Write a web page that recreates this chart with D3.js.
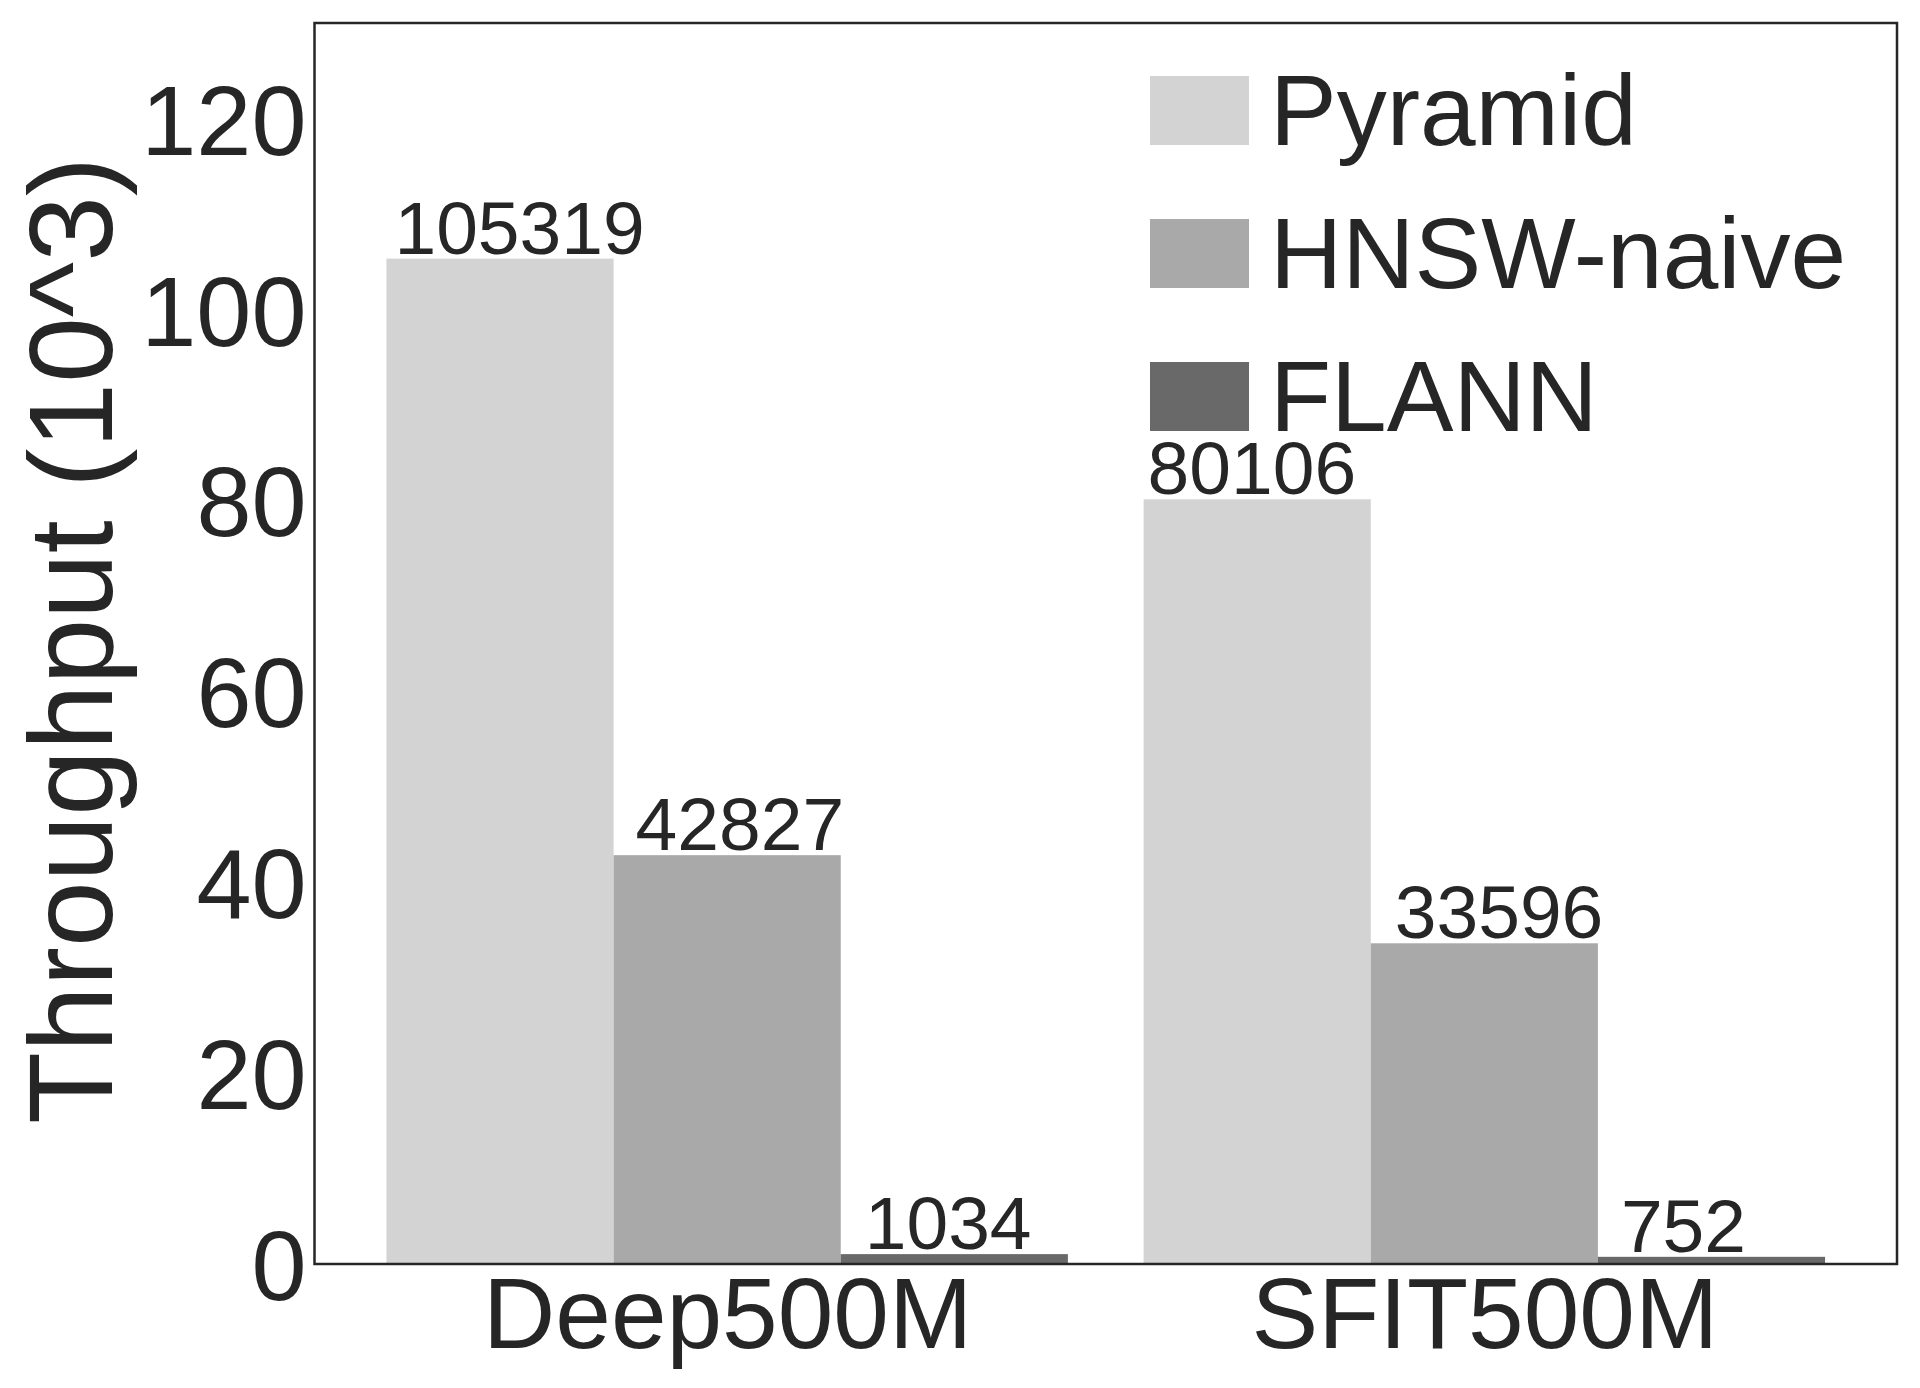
<!DOCTYPE html>
<html>
<head>
<meta charset="utf-8">
<script src="https://cdn.jsdelivr.net/npm/d3@7.9.0/dist/d3.min.js"></script>
<style>
  html, body { margin: 0; padding: 0; background: #fff; }
  svg text { font-family: "Liberation Sans", Arial, sans-serif; fill: #262626; }
</style>
</head>
<body>
<svg width="1920" height="1388"></svg>
<script>
// data
const categories = ['Deep500M', 'SFIT500M'];
const seriesNames = ['Pyramid', 'HNSW-naive', 'FLANN'];
const pyramid = [105319, 80106];
const hnswNaive = [42827, 33596];
const flann = [1034, 752];
const yTicks = [0, 20, 40, 60, 80, 100, 120];

const seriesValues = [pyramid, hnswNaive, flann];
const colors = ['#d3d3d3', '#a9a9a9', '#696969'];
const ink = '#262626';

const plotLeft = 314.5, plotRight = 1897, plotTop = 23, plotBottom = 1264;
const barW = 0.3;
// value labels sit a bit right of the bar's left edge (px)
const labelDx = [[8, 22, 24], [4, 24, 23]];

const svg = d3.select('svg');

const x = d3.scaleLinear().domain([-0.545, 1.545]).range([plotLeft, plotRight]);
const y = d3.scaleLinear().domain([0, 130]).range([plotBottom, plotTop]);

// bars
seriesValues.forEach((vals, s) => {
  vals.forEach((v, c) => {
    const x0 = x(c + (s - 1) * barW - barW / 2);
    const x1 = x(c + (s - 1) * barW + barW / 2);
    svg.append('rect')
      .attr('x', x0)
      .attr('y', y(v / 1000))
      .attr('width', x1 - x0)
      .attr('height', y(0) - y(v / 1000))
      .attr('fill', colors[s]);

    svg.append('text')
      .attr('x', x0 + labelDx[c][s])
      .attr('y', y(v / 1000) - 5)
      .attr('font-size', 75)
      .attr('text-anchor', 'start')
      .text(v);
  });
});

// y axis ticks
const yAxis = d3.axisLeft(y).tickValues(yTicks).tickSize(0).tickPadding(8);
const gy = svg.append('g').attr('transform', `translate(${plotLeft},0)`).call(yAxis);
gy.select('.domain').remove();
gy.selectAll('text')
  .attr('font-size', 99)
  .attr('fill', ink)
  .attr('dy', '0.36em')
  .style('font-family', '"Liberation Sans", Arial, sans-serif');

// x axis labels
const xAxis = d3.axisBottom(x).tickValues([0, 1]).tickFormat((d) => categories[d]).tickSize(0).tickPadding(12);
const gx = svg.append('g').attr('transform', `translate(0,${plotBottom})`).call(xAxis);
gx.select('.domain').remove();
gx.selectAll('text')
  .attr('font-size', 100)
  .attr('fill', ink)
  .attr('dy', '0.72em')
  .style('font-family', '"Liberation Sans", Arial, sans-serif');

// frame
svg.append('rect')
  .attr('x', plotLeft).attr('y', plotTop)
  .attr('width', plotRight - plotLeft).attr('height', plotBottom - plotTop)
  .attr('fill', 'none')
  .attr('stroke', ink)
  .attr('stroke-width', 2.5);

// y label
svg.append('text')
  .attr('transform', `translate(112,${(plotTop + plotBottom) / 2 - 3}) rotate(-90)`)
  .attr('text-anchor', 'middle')
  .attr('font-size', 118)
  .text('Throughput (10^3)');

// legend
const legend = svg.append('g').attr('transform', 'translate(1150,76)');
seriesNames.forEach((name, i) => {
  const row = legend.append('g').attr('transform', `translate(0,${i * 143})`);
  row.append('rect')
    .attr('width', 99).attr('height', 69)
    .attr('fill', colors[i]);
  row.append('text')
    .attr('x', 120)
    .attr('y', 69)
    .attr('font-size', 100)
    .text(name);
});
</script>
</body>
</html>
